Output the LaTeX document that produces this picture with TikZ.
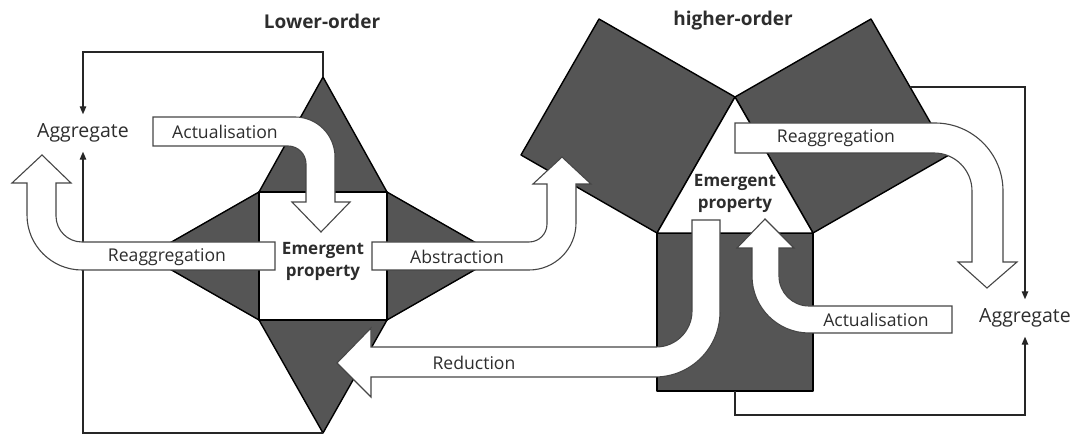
\documentclass[tikz,border=0pt]{standalone}
\usepackage{fontspec}
\setmainfont{Open Sans}
\usetikzlibrary{arrows.meta}
\definecolor{shapefill}{RGB}{85,85,85}
\definecolor{arrowedge}{RGB}{70,70,70}
\definecolor{labelgray}{RGB}{45,45,45}

\begin{document}
\begin{tikzpicture}[x=1pt,y=1pt,
  piece/.style={fill=shapefill,draw=black,line width=1.4pt,line join=round},
  hole/.style={fill=white,draw=black,line width=1.4pt,line join=round},
  blockarrow/.style={fill=white,draw=arrowedge,line width=1.1pt},
  link/.style={draw=black!85,line width=1.3pt,-{Triangle[length=8pt,width=6.5pt]}},
  every node/.style={text=labelgray,font=\fontsize{17.6}{20}\selectfont},
  title/.style={font=\fontsize{19}{22}\selectfont\bfseries},
  ep/.style={font=\fontsize{17}{22}\selectfont\bfseries,align=center},
  agg/.style={font=\fontsize{19.5}{22}\selectfont,minimum height=37pt,inner sep=0pt}]
  \useasboundingbox (0,0) rectangle (1072,-435);

  % lower-order star
  \draw[piece] (259,-192) -- (323,-77) -- (387,-192) -- cycle;
  \draw[piece] (259,-320) -- (323,-433) -- (387,-320) -- cycle;
  \draw[piece] (259,-192) -- (147,-256) -- (259,-320) -- cycle;
  \draw[piece] (387,-192) -- (499,-256) -- (387,-320) -- cycle;
  \draw[hole] (259,-192) rectangle (387,-320);

  % higher-order squares round the triangle
  \draw[piece] (657,-233) -- (735,-97) -- (599,-19) -- (521,-155) -- cycle;
  \draw[piece] (735,-97) -- (813,-233) -- (949,-155) -- (871,-19) -- cycle;
  \draw[piece] (657,-233) rectangle (813,-391);
  \draw[hole] (657,-233) -- (735,-97) -- (813,-233) -- cycle;

  \coordinate (lotop) at (323,-77);
  \coordinate (lobot) at (323,-433);
  \coordinate (hitop) at (910,-87);
  \coordinate (hibot) at (735,-391);

  \node[title] (lower) at (322,-21) {Lower-order};
  \node[title] (higher) at (733,-21) {higher-order};
  \node[agg] (aggL) at (83,-133) {Aggregate};
  \node[agg] (aggR) at (1025,-318) {Aggregate};

  \draw[link] (lotop) -- ++(0,25) -| (aggL.north);
  \draw[link] (lobot) -| (aggL.south);
  \draw[link] (hitop) -| (aggR.north);
  \draw[link] (hibot) -- ++(0,-24) -| (aggR.south);

  % block arrows
  \draw[blockarrow] (153,-117) -- (295,-117) arc[start angle=90,end angle=0,radius=40pt]
    -- (335,-202) -- (350,-202) -- (321,-232) -- (292,-202) -- (306,-202) -- (306,-164)
    arc[start angle=0,end angle=90,radius=18pt] -- (153,-146) -- cycle;
  \draw[blockarrow] (275,-242) -- (82,-242) arc[start angle=-90,end angle=-180,radius=26pt]
    -- (56,-183) -- (71,-183) -- (42,-155) -- (12,-183) -- (27,-183) -- (27,-215)
    arc[start angle=180,end angle=270,radius=55pt] -- (275,-270) -- cycle;
  \draw[blockarrow] (372,-242) -- (529,-242) arc[start angle=-90,end angle=0,radius=18pt]
    -- (547,-184) -- (533,-184) -- (562,-157) -- (591,-184) -- (576,-184) -- (576,-223)
    arc[start angle=0,end angle=-90,radius=47pt] -- (372,-270) -- cycle;
  \draw[blockarrow] (692,-220) -- (720,-220) -- (720,-312)
    arc[start angle=0,end angle=-90,radius=65pt] -- (371,-377) -- (371,-397) -- (337,-363)
    -- (371,-328) -- (371,-347) -- (656,-347) arc[start angle=-90,end angle=0,radius=36pt] -- cycle;
  \draw[blockarrow] (735,-123) -- (935,-123) arc[start angle=90,end angle=0,radius=68pt]
    -- (1003,-262) -- (1017,-262) -- (987,-288) -- (958,-262) -- (972,-262) -- (972,-191)
    arc[start angle=0,end angle=90,radius=38pt] -- (735,-153) -- cycle;
  \draw[blockarrow] (952,-306) -- (809,-306) arc[start angle=-90,end angle=-180,radius=30pt]
    -- (779,-248) -- (794,-248) -- (765,-219) -- (737,-248) -- (752,-248) -- (752,-276)
    arc[start angle=180,end angle=270,radius=57pt] -- (952,-333) -- cycle;

  \node[ep] (epL) at (323,-261) {Emergent\\property};
  \node[ep] (epR) at (735,-193) {Emergent\\property};
  \node (actL) at (225,-132) {Actualisation};
  \node (reaggL) at (167,-257) {Reaggregation};
  \node (abstr) at (457,-257) {Abstraction};
  \node (reduc) at (474,-363) {Reduction};
  \node (reaggR) at (836,-138) {Reaggregation};
  \node (actR) at (876,-320) {Actualisation};
\end{tikzpicture}
\end{document}
